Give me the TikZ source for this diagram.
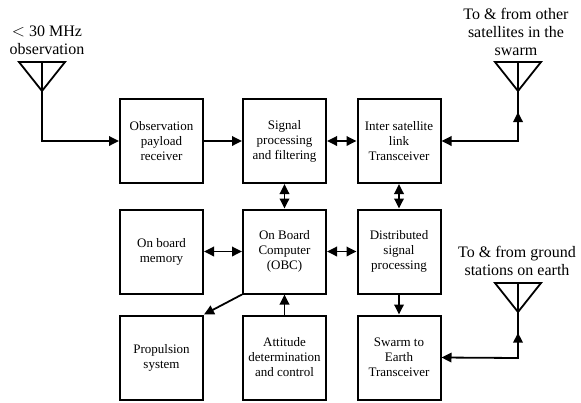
\documentclass[tikz,border=0pt]{standalone}
\usepackage{fontspec}
\setmainfont{Liberation Serif}
\usetikzlibrary{arrows.meta,calc}
\begin{document}
\begin{tikzpicture}[x=1pt,y=-1pt,
  blk/.style={draw, line width=2pt, fill=white, minimum width=83pt, minimum height=84pt, align=center, inner sep=0pt, font=\fontsize{13}{15}\selectfont},
  lbl/.style={align=center, inner sep=0pt, font=\fontsize{16}{18}\selectfont},
  conn/.style={line width=1.8pt},
  tipe/.style={-{Triangle[length=10pt,width=9.5pt]}},
  tipb/.style={{Triangle[length=10pt,width=9.5pt]}-{Triangle[length=10pt,width=9.5pt]}},
  ant/.style={line width=1.8pt, line join=miter}
]
\useasboundingbox (0,0) rectangle (581,402);
% blocks
\node[blk] (obs) at (161.5,141) {Observation\\payload\\receiver};
\node[blk] (sig) at (284.5,141) {Signal\\processing\\and filtering};
\node[blk] (isl) at (399,141) {Inter satellite\\link\\Transceiver};
\node[blk] (mem) at (161.5,251.5) {On board\\memory};
\node[blk] (obc) at (284.5,251.5) {On Board\\Computer\\(OBC)};
\node[blk] (dsp) at (399,251.5) {Distributed\\signal\\processing};
\node[blk] (pro) at (161.5,357.5) {Propulsion\\system};
\node[blk] (adc) at (284.5,357.5) {Attitude\\determination\\and control};
\node[blk] (ste) at (399,357.5) {Swarm to\\Earth\\Transceiver};
% antennas
\coordinate (a1top) at (42,62);
\coordinate (a1) at (42,91);
\coordinate (a1c) at (42,141);
\draw[ant] (19,62) -- (65,62) -- (a1) -- cycle;
\draw[ant] (a1top) -- (a1);
\coordinate (a2top) at (518,62);
\coordinate (a2) at (518,91);
\coordinate (a2c) at (518,141);
\draw[ant] (495,62) -- (541,62) -- (a2) -- cycle;
\draw[ant] (a2top) -- (a2);
\coordinate (a3top) at (518,283);
\coordinate (a3) at (518,312);
\coordinate (a3c) at (518,358);
\draw[ant] (495,283) -- (541,283) -- (a3) -- cycle;
\draw[ant] (a3top) -- (a3);
% labels
\node[lbl] (l1) at (47,40) {$<$ 30 MHz\\observation};
\node[lbl] (l2) at (516,32) {To \& from other\\satellites in the\\swarm};
\node[lbl] (l3) at (517,261) {To \& from ground\\stations on earth};
% connectors
\draw[conn,tipe] (a1) -- (a1c) -- (obs.west);
\draw[conn,tipe] (obs) -- (sig);
\draw[conn,tipb] (sig) -- (isl);
\draw[conn,tipe] (a2) -- (a2c) -- (isl.east);
\draw[conn,tipe] (a2c) -- ($(a2c)!0.58!(a2)$);
\draw[conn,tipb] (sig) -- (obc);
\draw[conn,tipb] (isl) -- (dsp);
\draw[conn,tipb] (obc) -- (mem);
\draw[conn,tipb] (obc) -- (dsp);
\draw[conn,tipe] (obc.south west) -- (pro.north east);
\draw[conn,tipe] (adc) -- (obc);
\draw[conn,tipe] (dsp) -- (ste);
\draw[conn,tipe] (a3) -- (a3c) -- (ste.east);
\draw[conn,tipe] (a3c) -- ($(a3c)!0.55!(a3)$);
\end{tikzpicture}
\end{document}
